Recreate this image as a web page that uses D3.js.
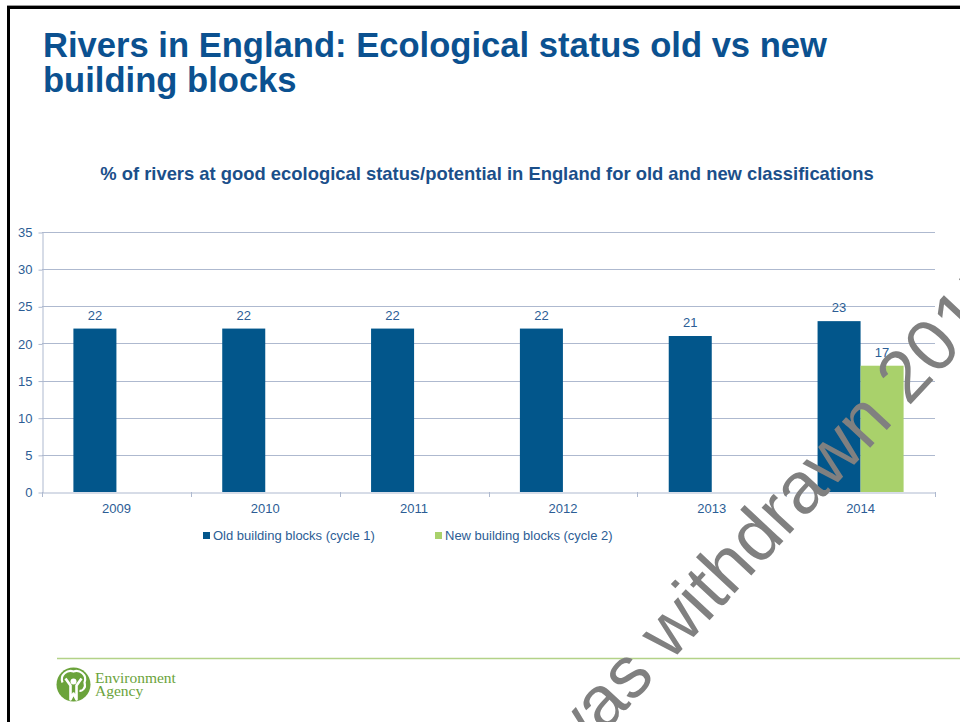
<!DOCTYPE html>
<html>
<head>
<meta charset="utf-8">
<script src="https://cdn.jsdelivr.net/npm/d3@7"></script>
<style>
  html, body { margin: 0; padding: 0; background: #fff; }
  svg { display: block; font-family: "Liberation Sans", Arial, sans-serif; }
</style>
</head>
<body>
<svg id="chart" width="960" height="722"></svg>
<script>
// ---- data ----
const years = ["2009", "2010", "2011", "2012", "2013", "2014"];
const oldValues = [22, 22, 22, 22, 21, 23];
const newValues = [null, null, null, null, null, 17];
const seriesNames = ["Old building blocks (cycle 1)", "New building blocks (cycle 2)"];
const yTicks = [0, 5, 10, 15, 20, 25, 30, 35];
const titleLines = ["Rivers in England: Ecological status old vs new", "building blocks"];
const subtitle = "% of rivers at good ecological status/potential in England for old and new classifications";
const logoLines = ["Environment", "Agency"];
const watermark = "was withdrawn 2015";

// ---- styles ----
const colOld = "#02568B", colNew = "#A9D16B";
const textBlue = "#2C5D95", titleBlue = "#0B5190";
const gridCol = "#AEB9CF";
const fs = 13;

const svg = d3.select("#chart");

// frame border
svg.append("path")
  .attr("d", "M8.5,722 L8.5,7.5 L960,7.5")
  .attr("fill", "none").attr("stroke", "#000").attr("stroke-width", 3);
svg.append("line").attr("x1", 7).attr("x2", 960).attr("y1", 5.5).attr("y2", 5.5)
  .attr("stroke", "#999").attr("stroke-width", 1);

// title
svg.append("g").selectAll("text").data(titleLines).join("text")
  .attr("x", 43).attr("y", (d, i) => 57 + i * 35)
  .attr("fill", titleBlue).attr("font-weight", "bold").attr("font-size", 34.6)
  .text(d => d);

// subtitle
svg.append("text")
  .attr("x", 487).attr("y", 180).attr("text-anchor", "middle")
  .attr("fill", "#1B4F8A").attr("font-weight", "bold").attr("font-size", 18.4)
  .text(subtitle);

// scales
const x0 = d3.scaleBand().domain(years).range([42, 935]).paddingInner(0).paddingOuter(0);
const x1 = d3.scaleBand().domain([0, 1]).range([0, x0.bandwidth()]).paddingInner(0).paddingOuter(0.73);
const y = d3.scaleLinear().domain([0, 35]).range([492, 232]);

// gridlines
svg.append("g").selectAll("line").data(yTicks.filter(t => t > 0)).join("line")
  .attr("x1", 42).attr("x2", 935)
  .attr("y1", d => Math.round(y(d)) + 0.5).attr("y2", d => Math.round(y(d)) + 0.5)
  .attr("stroke", gridCol).attr("stroke-width", 1);

// y axis
const yAxis = svg.append("g").attr("transform", "translate(42.5,0.5)")
  .call(d3.axisLeft(y).tickValues(yTicks).tickSize(4).tickPadding(6).tickSizeOuter(0));
yAxis.select(".domain").attr("stroke", gridCol);
yAxis.selectAll(".tick line").attr("stroke", gridCol);
yAxis.selectAll(".tick text").attr("fill", textBlue).attr("font-size", fs)
  .attr("font-family", "Liberation Sans, Arial, sans-serif");

// x axis
const xAxis = svg.append("g").attr("transform", "translate(0,492.5)")
  .call(d3.axisBottom(x0).tickSize(0).tickPadding(11).tickSizeOuter(0));
xAxis.select(".domain").attr("stroke", gridCol);
xAxis.selectAll(".tick text").attr("fill", textBlue).attr("font-size", fs)
  .attr("font-family", "Liberation Sans, Arial, sans-serif");
// x category separators
svg.append("g").selectAll("line").data(years.concat(["end"])).join("line")
  .attr("x1", (d, i) => Math.round(42 + i * x0.step()) + 0.5)
  .attr("x2", (d, i) => Math.round(42 + i * x0.step()) + 0.5)
  .attr("y1", 492).attr("y2", 497)
  .attr("stroke", gridCol);

// bars
const groups = svg.append("g").selectAll("g").data(years).join("g")
  .attr("transform", d => `translate(${x0(d)},0)`);
const barData = (d, i) => [
  { s: 0, v: oldValues[i] },
  { s: 1, v: newValues[i] }
].filter(e => e.v != null);
groups.each(function (d, i) {
  const g = d3.select(this);
  const bd = barData(d, i);
  g.selectAll("rect").data(bd).join("rect")
    .attr("x", e => x1(e.s)).attr("width", x1.bandwidth())
    .attr("y", e => y(e.v)).attr("height", e => y(0) - y(e.v))
    .attr("fill", e => e.s === 0 ? colOld : colNew);
  g.selectAll("text").data(bd).join("text")
    .attr("x", e => x1(e.s) + x1.bandwidth() / 2)
    .attr("y", e => y(e.v) - 9)
    .attr("text-anchor", "middle").attr("font-size", fs).attr("fill", textBlue)
    .text(e => e.v);
});

// legend
const legend = svg.append("g");
const legX = [203, 435];
seriesNames.forEach((name, i) => {
  legend.append("rect").attr("x", legX[i]).attr("y", 532).attr("width", 7).attr("height", 7)
    .attr("fill", i === 0 ? colOld : colNew);
  legend.append("text").attr("x", legX[i] + 10).attr("y", 539.5)
    .attr("font-size", fs).attr("fill", textBlue).text(name);
});

// footer line
svg.append("line").attr("x1", 57).attr("x2", 960).attr("y1", 658.5).attr("y2", 658.5)
  .attr("stroke", "#B3D288").attr("stroke-width", 1.5);

// logo
const logo = svg.append("g").attr("transform", "translate(73.5,684.5)");
logo.append("circle").attr("r", 17).attr("fill", "#6BA33B");
logo.append("path")
  .attr("d", "M-11,-2 C-14,-10 -6,-15 0,-13 C6,-15 14,-10 11,-2 C13,4 8,7 6,6")
  .attr("fill", "none").attr("stroke", "#fff").attr("stroke-width", 2.2);
logo.append("path")
  .attr("d", "M-8,-6 L-3,1 L-3,15 L0,9 L3,15 L3,1 L8,-6")
  .attr("fill", "none").attr("stroke", "#fff").attr("stroke-width", 2.6).attr("stroke-linejoin", "round");
logo.append("circle").attr("cx", 0).attr("cy", -3).attr("r", 3).attr("fill", "#fff");
const logoText = logo.append("text").attr("font-family", "Liberation Serif, Times New Roman, serif")
  .attr("font-size", 15.5).attr("fill", "#6BA33B");
logoText.selectAll("tspan").data(logoLines).join("tspan")
  .attr("x", 21.5).attr("y", (d, i) => -2 + i * 13.5).text(d => d);

// watermark
svg.append("text")
  .attr("transform", "translate(568,772) rotate(-47)")
  .attr("font-size", 73).attr("fill", "#808080")
  .text(watermark);
</script>
</body>
</html>
